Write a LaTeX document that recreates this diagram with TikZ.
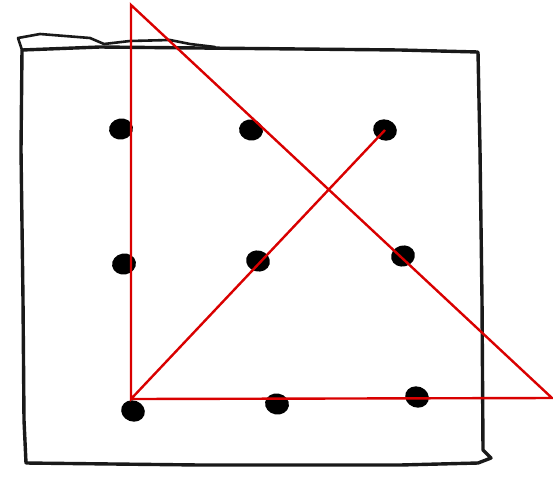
\documentclass[tikz,border=0pt]{standalone}
\usetikzlibrary{shapes.geometric}
\begin{document}
\begin{tikzpicture}[x=1pt,y=-1pt,
  frame/.style={line width=3.4pt,black!90,line join=round,line cap=round},
  dot/.style={ellipse,fill=black,minimum width=24pt,minimum height=21pt,inner sep=0pt},
  redline/.style={red!85!black,line width=2.4pt}]
\useasboundingbox (0,0) rectangle (553,496);
% hand-drawn frame
\draw[frame] (22,50) -- (21,150) -- (23,300) -- (24,420) -- (26,463)
  -- (200,465) -- (400,465) -- (478,463) -- (491,458) -- (483,450)
  -- (482,300) -- (480,150) -- (478,52) -- (400,50) -- (300,49) -- (200,48) -- (100,47) -- cycle;
\draw[frame,line width=2.6pt] (22,50) -- (18,38) -- (40,34) -- (90,38) -- (104,44)
  -- (130,41) -- (170,40) -- (190,44) -- (215,47);
% dots
\node[dot,rotate=10] (d11) at (121,129) {};
\node[dot,rotate=-10] (d12) at (251,130) {};
\node[dot,rotate=-20] (d13) at (385,130) {};
\node[dot,rotate=10] (d21) at (124,264) {};
\node[dot,rotate=-15] (d22) at (258,261) {};
\node[dot,rotate=15] (d23) at (403,256) {};
\node[dot,rotate=-20] (d31) at (133,411) {};
\node[dot,rotate=-10] (d32) at (277,404) {};
\node[dot,rotate=-20] (d33) at (417,397) {};
% red solution path
\coordinate (apex) at (131,5);
\coordinate (corner) at (131,399);
\coordinate (right) at (552,398);
\draw[redline,line join=miter] (d13.center) -- (corner) -- (apex) -- (right) -- (corner);
\end{tikzpicture}
\end{document}
